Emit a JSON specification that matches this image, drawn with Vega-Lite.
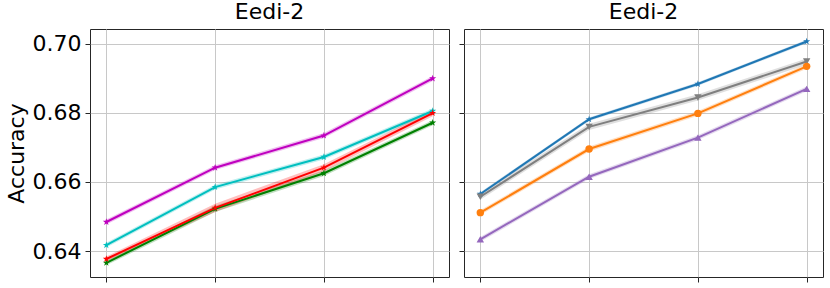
{
  "$schema": "https://vega.github.io/schema/vega-lite/v6.json",
  "padding": {"left": 4, "top": 0, "right": 4, "bottom": 0},
  "spacing": 8,
  "config": {
    "font": "DejaVu Sans",
    "view": {"stroke": "#262626", "strokeWidth": 1},
    "axis": {"gridColor": "#c8c8c8", "gridWidth": 1, "tickColor": "#262626", "tickSize": 5, "labelPadding": 4, "domain": false, "labelFontSize": 22, "labelColor": "#000", "titleFontSize": 22, "titleFontWeight": "normal", "titleColor": "#000", "labelFont": "DejaVu Sans", "titleFont": "DejaVu Sans"},
    "title": {"fontSize": 22, "fontWeight": "normal", "font": "DejaVu Sans", "color": "#000", "offset": 5}
  },
  "datasets": {
    "acc": [
      {"panel": "L", "s": "m", "x": 1, "y": 0.6484, "lo": 0.6477, "hi": 0.6491},
      {"panel": "L", "s": "m", "x": 2, "y": 0.6641, "lo": 0.6634, "hi": 0.6648},
      {"panel": "L", "s": "m", "x": 3, "y": 0.6734, "lo": 0.6727, "hi": 0.6741},
      {"panel": "L", "s": "m", "x": 4, "y": 0.6899, "lo": 0.6892, "hi": 0.6906},
      {"panel": "L", "s": "c", "x": 1, "y": 0.6417, "lo": 0.6410, "hi": 0.6424},
      {"panel": "L", "s": "c", "x": 2, "y": 0.6585, "lo": 0.6578, "hi": 0.6592},
      {"panel": "L", "s": "c", "x": 3, "y": 0.6672, "lo": 0.6665, "hi": 0.6679},
      {"panel": "L", "s": "c", "x": 4, "y": 0.6805, "lo": 0.6798, "hi": 0.6812},
      {"panel": "L", "s": "g", "x": 1, "y": 0.6366, "lo": 0.6359, "hi": 0.6373},
      {"panel": "L", "s": "g", "x": 2, "y": 0.6522, "lo": 0.6513, "hi": 0.6531},
      {"panel": "L", "s": "g", "x": 3, "y": 0.6625, "lo": 0.6617, "hi": 0.6633},
      {"panel": "L", "s": "g", "x": 4, "y": 0.6771, "lo": 0.6764, "hi": 0.6778},
      {"panel": "L", "s": "r", "x": 1, "y": 0.6377, "lo": 0.6370, "hi": 0.6384},
      {"panel": "L", "s": "r", "x": 2, "y": 0.6525, "lo": 0.6513, "hi": 0.6537},
      {"panel": "L", "s": "r", "x": 3, "y": 0.6641, "lo": 0.6631, "hi": 0.6651},
      {"panel": "L", "s": "r", "x": 4, "y": 0.6799, "lo": 0.6790, "hi": 0.6808},
      {"panel": "R", "s": "blue", "x": 1, "y": 0.6565, "lo": 0.6560, "hi": 0.6570},
      {"panel": "R", "s": "blue", "x": 2, "y": 0.6781, "lo": 0.6776, "hi": 0.6786},
      {"panel": "R", "s": "blue", "x": 3, "y": 0.6883, "lo": 0.6878, "hi": 0.6888},
      {"panel": "R", "s": "blue", "x": 4, "y": 0.7006, "lo": 0.7001, "hi": 0.7011},
      {"panel": "R", "s": "gray", "x": 1, "y": 0.6557, "lo": 0.6548, "hi": 0.6566},
      {"panel": "R", "s": "gray", "x": 2, "y": 0.6759, "lo": 0.6750, "hi": 0.6768},
      {"panel": "R", "s": "gray", "x": 3, "y": 0.6844, "lo": 0.6835, "hi": 0.6853},
      {"panel": "R", "s": "gray", "x": 4, "y": 0.6948, "lo": 0.6939, "hi": 0.6957},
      {"panel": "R", "s": "orange", "x": 1, "y": 0.6511, "lo": 0.6504, "hi": 0.6518},
      {"panel": "R", "s": "orange", "x": 2, "y": 0.6695, "lo": 0.6688, "hi": 0.6702},
      {"panel": "R", "s": "orange", "x": 3, "y": 0.6798, "lo": 0.6791, "hi": 0.6805},
      {"panel": "R", "s": "orange", "x": 4, "y": 0.6934, "lo": 0.6927, "hi": 0.6941},
      {"panel": "R", "s": "purple", "x": 1, "y": 0.6434, "lo": 0.6427, "hi": 0.6441},
      {"panel": "R", "s": "purple", "x": 2, "y": 0.6615, "lo": 0.6608, "hi": 0.6622},
      {"panel": "R", "s": "purple", "x": 3, "y": 0.6728, "lo": 0.6721, "hi": 0.6735},
      {"panel": "R", "s": "purple", "x": 4, "y": 0.6869, "lo": 0.6862, "hi": 0.6876}
    ]
  },
  "hconcat": [
    {
      "width": 359, "height": 248,
      "title": "Eedi-2",
      "data": {"name": "acc"},
      "transform": [{"filter": "datum.panel === 'L'"}],
      "encoding": {
        "x": {"field": "x", "type": "quantitative", "scale": {"domain": [0.85, 4.15], "nice": false, "zero": false}, "axis": {"values": [1, 2, 3, 4], "labels": false, "title": null}},
        "color": {"field": "s", "type": "nominal", "legend": null, "scale": {"domain": ["m", "c", "g", "r", "blue", "gray", "orange", "purple"], "range": ["#bf00bf", "#00bfbf", "#008000", "#ff0000", "#1f77b4", "#7f7f7f", "#ff7f0e", "#9467bd"]}},
        "detail": {"field": "s"}
      },
      "layer": [
        {"mark": {"type": "area", "opacity": 0.25}, "encoding": {"y": {"field": "lo", "type": "quantitative", "scale": {"domain": [0.6325, 0.7042], "nice": false, "zero": false}, "axis": {"values": [0.64, 0.66, 0.68, 0.70], "format": ".2f", "title": "Accuracy", "titlePadding": 4}}, "y2": {"field": "hi"}}},
        {"mark": {"type": "line", "strokeWidth": 2}, "encoding": {"y": {"field": "y", "type": "quantitative"}}},
        {"mark": {"type": "point", "filled": true, "opacity": 1, "size": 55, "shape": "M0,-1L0.2245,-0.309L0.951,-0.309L0.363,0.118L0.588,0.809L0,0.382L-0.588,0.809L-0.363,0.118L-0.951,-0.309L-0.2245,-0.309Z"}, "encoding": {"y": {"field": "y", "type": "quantitative"}}}
      ]
    },
    {
      "width": 359, "height": 248,
      "title": "Eedi-2",
      "data": {"name": "acc"},
      "transform": [{"filter": "datum.panel === 'R'"}],
      "encoding": {
        "x": {"field": "x", "type": "quantitative", "scale": {"domain": [0.85, 4.15], "nice": false, "zero": false}, "axis": {"values": [1, 2, 3, 4], "labels": false, "title": null}},
        "color": {"field": "s", "type": "nominal", "legend": null, "scale": {"domain": ["m", "c", "g", "r", "blue", "gray", "orange", "purple"], "range": ["#bf00bf", "#00bfbf", "#008000", "#ff0000", "#1f77b4", "#7f7f7f", "#ff7f0e", "#9467bd"]}},
        "detail": {"field": "s"}
      },
      "layer": [
        {"mark": {"type": "area", "opacity": 0.25}, "encoding": {"y": {"field": "lo", "type": "quantitative", "scale": {"domain": [0.6325, 0.7042], "nice": false, "zero": false}, "axis": {"values": [0.64, 0.66, 0.68, 0.70], "labels": false, "title": null}}, "y2": {"field": "hi"}}},
        {"mark": {"type": "line", "strokeWidth": 2}, "encoding": {"y": {"field": "y", "type": "quantitative"}}},
        {"mark": {"type": "point", "filled": true, "opacity": 1, "size": 55}, "encoding": {"y": {"field": "y", "type": "quantitative"}, "shape": {"field": "s", "type": "nominal", "legend": null, "scale": {"domain": ["blue", "gray", "orange", "purple"], "range": ["M0,-1L0.2245,-0.309L0.951,-0.309L0.363,0.118L0.588,0.809L0,0.382L-0.588,0.809L-0.363,0.118L-0.951,-0.309L-0.2245,-0.309Z", "triangle-down", "circle", "triangle-up"]}}}}
      ]
    }
  ]
}
